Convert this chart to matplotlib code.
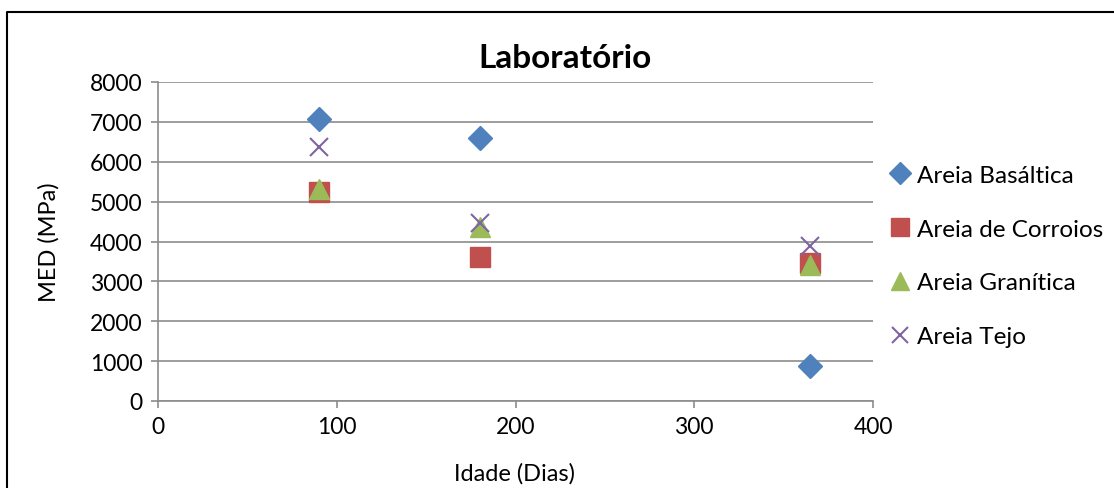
import matplotlib.pyplot as plt
from matplotlib.lines import Line2D

plt.rcParams['font.family'] = ['Lato', 'DejaVu Sans']

idade = [90, 180, 365]
basaltica = [7070, 6600, 870]
corroios = [5230, 3600, 3450]
granitica = [5320, 4360, 3420]
tejo = [6370, 4460, 3890]

series = [
    ('Areia Basáltica', basaltica, 'D', '#4F81BD', 12),
    ('Areia de Corroios', corroios, 's', '#C0504D', 14),
    ('Areia Granítica', granitica, '^', '#9BBB59', 14),
    ('Areia Tejo', tejo, 'x', '#8064A2', 13),
]

fig = plt.figure(figsize=(11.14, 4.89), dpi=100)
ax = fig.add_axes([158 / 1114, 1 - 402 / 489, (873 - 158) / 1114, (402 - 83) / 489])

for name, vals, mk, col, ms in series:
    if mk == 'x':
        ax.plot(idade, vals, linestyle='none', marker=mk, color=col, ms=ms,
                mew=1.5, label=name, zorder=3)
    else:
        ax.plot(idade, vals, linestyle='none', marker=mk, color=col, ms=ms,
                mec=col, label=name, zorder=3)

ax.set_xlim(0, 400)
ax.set_ylim(0, 8000)
ax.set_xticks([0, 100, 200, 300, 400])
ax.set_yticks(range(0, 8001, 1000))
ax.yaxis.grid(True, color='#8c8c8c', linewidth=1.2)
ax.set_axisbelow(True)
for s in ['top', 'right']:
    ax.spines[s].set_visible(False)
for s in ['left', 'bottom']:
    ax.spines[s].set_color('#8c8c8c')
    ax.spines[s].set_linewidth(1.2)
ax.tick_params(direction='out', length=5, width=1.2, color='#8c8c8c',
               labelsize=16.5, pad=6)

ax.set_xlabel('Idade (Dias)', fontsize=17)
ax.set_ylabel('MED (MPa)', fontsize=17)
ax.xaxis.set_label_coords(0.499, -0.19)
ax.yaxis.set_label_coords(-0.138, 0.5)

fig.text(565 / 1114, 1 - 59 / 489, 'Laboratório', fontsize=24, fontweight='bold',
         ha='center', va='center')

fig.legend(loc='center left', bbox_to_anchor=(890 / 1114, 1 - 257 / 489),
           frameon=False, fontsize=17.5, handlelength=0.8, handletextpad=0.3,
           labelspacing=1.35, markerscale=0.9, borderaxespad=0, borderpad=0)

# outer chart frame
fig.add_artist(Line2D([7 / 1114, 7 / 1114, 1.0], [0.0, 1 - 13 / 489, 1 - 13 / 489],
                      transform=fig.transFigure, color='black', linewidth=1.5))

fig.savefig('out.png', dpi=100)
